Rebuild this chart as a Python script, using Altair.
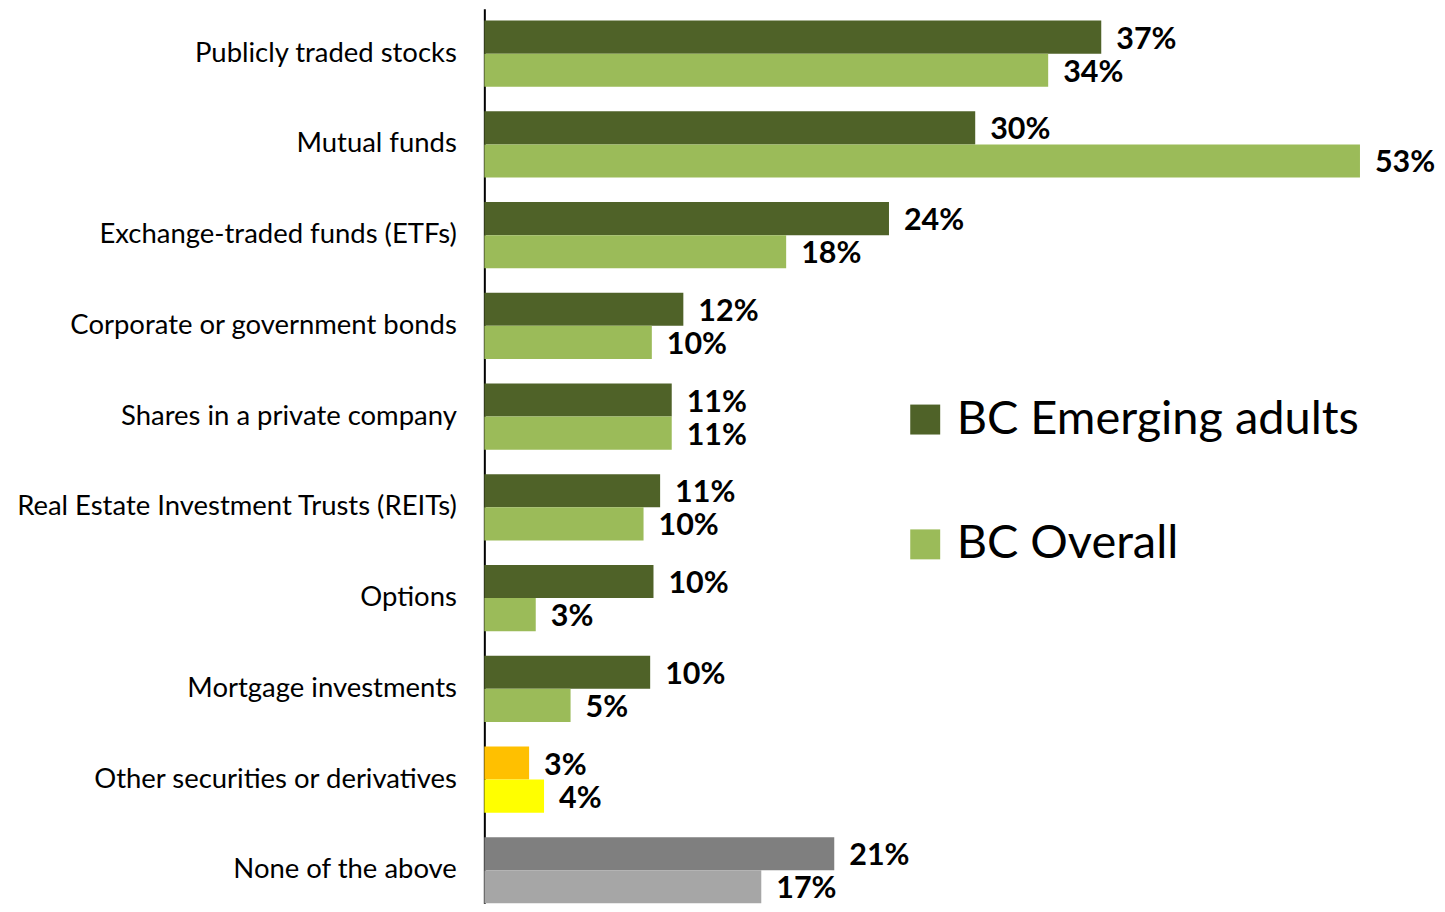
import altair as alt
import pandas as pd

categories = [
    "Publicly traded stocks",
    "Mutual funds",
    "Exchange-traded funds (ETFs)",
    "Corporate or government bonds",
    "Shares in a private company",
    "Real Estate Investment Trusts (REITs)",
    "Options",
    "Mortgage investments",
    "Other securities or derivatives",
    "None of the above",
]
series_names = ["BC Emerging adults", "BC Overall"]
emerging = [37.2, 29.6, 24.4, 12.0, 11.3, 10.6, 10.2, 10.0, 2.7, 21.1]
overall = [34.0, 52.8, 18.2, 10.1, 11.3, 9.6, 3.1, 5.2, 3.6, 16.7]

# styling
series_colors = {"BC Emerging adults": "#4F6228", "BC Overall": "#9BBB59"}
override_colors = {
    ("Other securities or derivatives", "BC Emerging adults"): "#FFC000",
    ("Other securities or derivatives", "BC Overall"): "#FFFF00",
    ("None of the above", "BC Emerging adults"): "#7F7F7F",
    ("None of the above", "BC Overall"): "#A6A6A6",
}
FONT = "Lato"

rows = []
for cat, e, o in zip(categories, emerging, overall):
    for s, v in zip(series_names, [e, o]):
        rows.append({
            "category": cat,
            "series": s,
            "value": v,
            "fill": override_colors.get((cat, s), series_colors[s]),
        })
df = pd.DataFrame(rows)
legend_df = pd.DataFrame({"series": series_names})

y_enc = alt.Y(
    "category:N",
    sort=categories,
    scale=alt.Scale(paddingInner=0.272, paddingOuter=0.066, align=1),
    axis=alt.Axis(
        title=None, ticks=False, grid=False, labelFont=FONT, labelFontSize=27.5,
        labelColor="black", labelPadding=28, domainColor="black", domainWidth=2,
        labelLimit=0,
    ),
)
x_enc = alt.X("value:Q", scale=alt.Scale(domain=[0, 56], nice=False), axis=None)
yoff = alt.YOffset("series:N", sort=series_names)

base = alt.Chart(df).encode(y=y_enc, x=x_enc, yOffset=yoff)

bars = base.mark_bar().encode(color=alt.Color("fill:N", scale=None))

labels = base.transform_calculate(
    label="format(datum.value, '.0f') + '%'"
).mark_text(
    align="left", baseline="middle", dx=15, dy=2.5, fontSize=30.5,
    fontWeight="bold", font=FONT, color="black",
).encode(text="label:N")

legend_layer = alt.Chart(legend_df).mark_square(opacity=0).encode(
    color=alt.Color(
        "series:N",
        sort=series_names,
        scale=alt.Scale(domain=series_names,
                        range=[series_colors[s] for s in series_names]),
        legend=alt.Legend(
            title=None, orient="none", legendX=418, legendY=388,
            symbolType="square", symbolSize=900, symbolOpacity=1,
            symbolStrokeWidth=0, labelFont=FONT, labelFontSize=47,
            labelColor="black", labelOffset=8, rowPadding=77, padding=0,
            labelLimit=0, direction="vertical",
        ),
    )
)

chart = alt.layer(bars, labels, legend_layer).resolve_scale(
    color="independent"
).properties(
    width=930, height=896,
    autosize=alt.AutoSizeParams(type="none"),
    padding={"left": 477, "top": 0, "right": 24, "bottom": 0},
).configure_view(stroke=None)

chart.save("out.html", embed_options={"renderer": "svg", "actions": False})
